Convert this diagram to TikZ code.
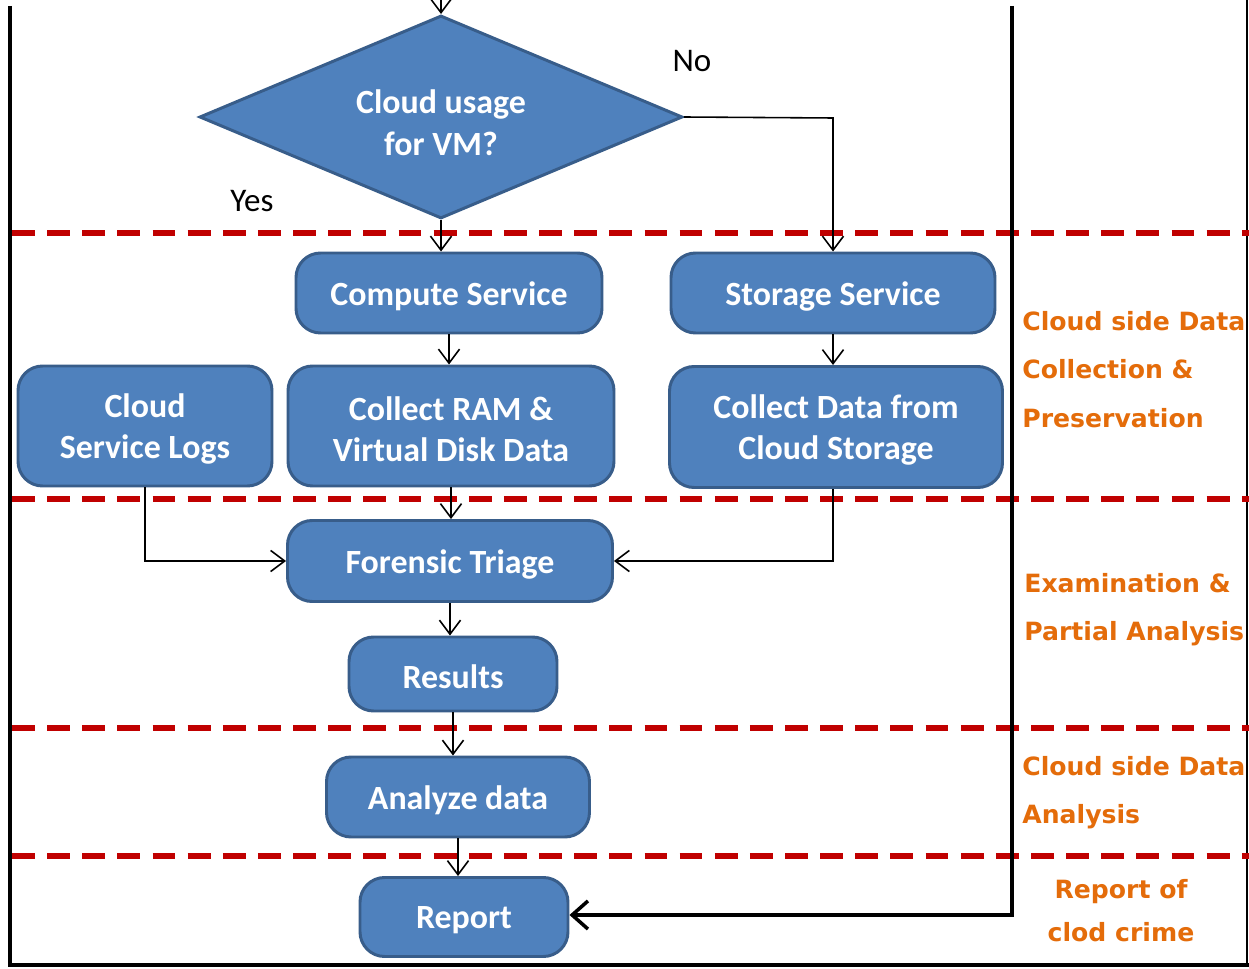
\documentclass[tikz,border=0pt]{standalone}
\usepackage{fontspec}
\setmainfont{Carlito}
\newfontfamily\phasefont{DejaVu Sans}
\usetikzlibrary{arrows.meta,shapes.geometric}

\definecolor{boxfill}{HTML}{4F81BD}
\definecolor{boxline}{HTML}{385D8A}
\definecolor{phasered}{HTML}{C00000}
\definecolor{phaseorange}{HTML}{E46C0A}

\tikzset{
  stepbox/.style={rectangle, rounded corners=14pt, draw=boxline, line width=1.7pt,
    fill=boxfill, inner sep=0pt},
  boxtext/.style={text=white, align=center, inner sep=0pt, yshift=-1.8pt,
    font=\bfseries\fontsize{19.3}{23.3}\selectfont},
  decision/.style={diamond, draw=boxline, line width=1.7pt, fill=boxfill, inner sep=0pt},
  flow/.style={draw=black, line width=0.9pt, -{Straight Barb[length=8pt,width=12pt,line width=0.9pt]}},
  bigflow/.style={draw=black, line width=2.6pt, -{Straight Barb[length=9pt,width=16pt,line width=2pt]}},
  phaseline/.style={draw=phasered, line width=3.3pt, dash pattern=on 13pt off 7pt},
  phaselabel/.style={text=phaseorange, font=\phasefont\bfseries\fontsize{14.3}{27.5}\selectfont, inner sep=0pt},
  branchlabel/.style={font=\fontsize{18.8}{22}\selectfont, inner sep=0pt},
  frameline/.style={draw=black, line width=2.6pt}
}

\begin{document}
\begin{tikzpicture}[x=0.02cm, y=-0.02cm]
  \useasboundingbox (0,0) rectangle (1249,969);
  \fill[white] (0,0) rectangle (1249,969);

  % outer frame
  \draw[frameline] (10,6) -- (10,965) -- (1249,965);
  \draw[black, line width=1pt] (1247,0) -- (1247,965);

  % phase separators
  \foreach \yy in {233,499,728,856}
    \draw[phaseline] (12,\yy) -- (1249,\yy);

  % decision
  \node[decision, minimum width=483*0.02cm, minimum height=203*0.02cm] (q) at (441,117) {};
  \node[boxtext, font=\bfseries\fontsize{19.3}{23.9}\selectfont] (qtext) at (441,120) {Cloud usage\\for VM?};

  % process steps
  \node[stepbox, minimum width=306*0.02cm, minimum height=80*0.02cm,
        label={[boxtext]center:Compute Service}] (compute) at (449,293) {};
  \node[stepbox, minimum width=324*0.02cm, minimum height=80*0.02cm,
        label={[boxtext]center:Storage Service}] (storage) at (833,293) {};
  \node[stepbox, minimum width=254*0.02cm, minimum height=120*0.02cm,
        label={[boxtext]center:{Cloud\\Service Logs}}] (logs) at (145,426) {};
  \node[stepbox, minimum width=326*0.02cm, minimum height=120*0.02cm,
        label={[boxtext]center:{Collect RAM \&\\Virtual Disk Data}}] (ram) at (451,426) {};
  \node[stepbox, minimum width=333*0.02cm, minimum height=121*0.02cm,
        label={[boxtext]center:{Collect Data from\\Cloud Storage}}] (cdata) at (836,427) {};
  \node[stepbox, minimum width=325*0.02cm, minimum height=81*0.02cm,
        label={[boxtext]center:Forensic Triage}] (triage) at (450,561) {};
  \node[stepbox, minimum width=208*0.02cm, minimum height=74*0.02cm,
        label={[boxtext]center:Results}] (results) at (453,674) {};
  \node[stepbox, minimum width=263*0.02cm, minimum height=80*0.02cm,
        label={[boxtext]center:Analyze data}] (analyze) at (458,797) {};
  \node[stepbox, minimum width=208*0.02cm, minimum height=79*0.02cm,
        label={[boxtext]center:Report}] (report) at (464,917) {};

  % connectors
  \coordinate (entry) at (441,0);
  \coordinate (nocorner) at (833,118);
  \coordinate (feedtop) at (1012,6);
  \coordinate (feedcorner) at (1012,915);

  \draw[flow] (entry) -- (q.north);
  \draw[flow] (q.south) -- (q.south |- compute.north);
  \draw[flow] (q.east) -- (nocorner) -- (storage.north);
  \draw[flow] (compute.south) -- (compute.south |- ram.north);
  \draw[flow] (storage.south) -- (storage.south |- cdata.north);
  \draw[flow] (ram.south) -- (ram.south |- triage.north);
  \draw[flow] (logs.south) |- (triage.west);
  \draw[flow] (cdata.south -| storage.south) |- (triage.east);
  \draw[flow] (triage.south) -- (triage.south |- results.north);
  \draw[flow] (results.south) -- (results.south |- analyze.north);
  \draw[flow] (analyze.south) -- (analyze.south |- report.north);
  \draw[bigflow] (feedtop) -- (feedcorner) -- (report.east |- feedcorner);

  % branch labels
  \node[branchlabel, anchor=base] (nolbl) at (692,72) {No};
  \node[branchlabel, anchor=base] (yeslbl) at (252,212) {Yes};

  % phase labels
  \node[phaselabel, anchor=north west, align=left] (ph1) at (1022,311)
    {Cloud side Data\\Collection \&\\Preservation};
  \node[phaselabel, anchor=north west, align=left] (ph2) at (1024,573)
    {Examination \&\\Partial Analysis};
  \node[phaselabel, anchor=north west, align=left] (ph3) at (1022,756)
    {Cloud side Data\\Analysis};
  \node[phaselabel, anchor=north, align=center, font=\phasefont\bfseries\fontsize{14.3}{24.5}\selectfont] (ph4) at (1121,879)
    {Report of\\clod crime};
\end{tikzpicture}
\end{document}
